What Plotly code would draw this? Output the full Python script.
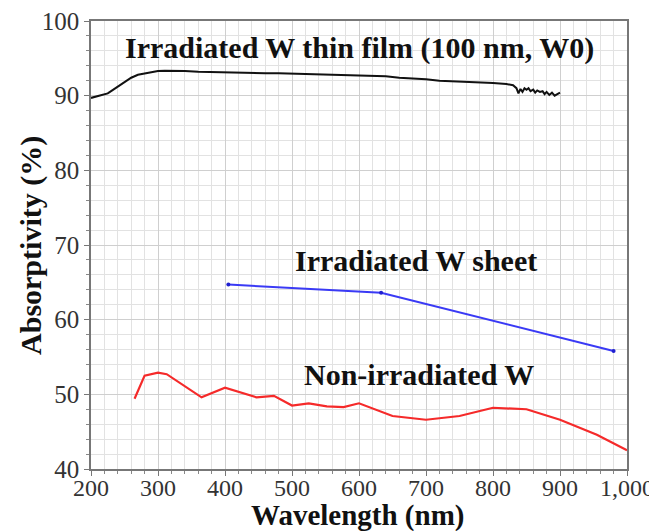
import plotly.graph_objects as go

# Irradiated W thin film (100 nm, W0)
film_wl = [200, 205, 210, 215, 220, 225, 230, 240, 250, 260, 270, 280, 290, 300, 310, 320,
           340, 360, 380, 400, 420, 440, 460, 480, 500, 520, 540, 560, 580, 600, 620, 640,
           660, 680, 700, 720, 740, 760, 780, 800, 820, 830, 835, 838, 841, 844, 847, 850,
           853, 856, 860, 863, 866, 870, 874, 877, 880, 884, 888, 892, 896, 900]
film_abs = [89.7, 89.8, 89.9, 90.0, 90.1, 90.3, 90.6, 91.2, 91.9, 92.4, 92.8, 93.0, 93.2, 93.3, 93.35, 93.35,
            93.3, 93.2, 93.15, 93.1, 93.1, 93.05, 93.0, 93.0, 92.95, 92.9, 92.85, 92.85, 92.8, 92.7, 92.65, 92.6,
            92.4, 92.3, 92.2, 92.0, 91.95, 91.85, 91.8, 91.7, 91.55, 91.4, 91.0, 90.3, 90.9, 90.5, 91.0, 90.8,
            91.0, 90.6, 90.8, 90.4, 90.7, 90.5, 90.6, 90.2, 90.5, 90.1, 90.4, 90.0, 90.2, 90.4]

# Irradiated W sheet
sheet_wl = [405, 633, 980]
sheet_abs = [64.7, 63.6, 55.8]

# Non-irradiated W
non_wl = [265, 280, 300, 313, 365, 400, 447, 473, 500, 525, 552, 577, 600, 650, 700, 750, 800, 850, 900, 955, 1000]
non_abs = [49.4, 52.5, 52.9, 52.7, 49.6, 50.9, 49.6, 49.8, 48.5, 48.8, 48.4, 48.3, 48.8, 47.1, 46.6, 47.1, 48.2, 48.0, 46.6, 44.6, 42.5]

x_ticks = [200, 300, 400, 500, 600, 700, 800, 900, 1000]
x_ticklabels = ["200", "300", "400", "500", "600", "700", "800", "900", "1,000"]
y_ticks = [40, 50, 60, 70, 80, 90, 100]

SERIF = "Liberation Serif"

fig = go.Figure()
fig.add_trace(go.Scatter(x=film_wl, y=film_abs, mode="lines",
                         line=dict(color="#111111", width=2), showlegend=False))
fig.add_trace(go.Scatter(x=sheet_wl, y=sheet_abs, mode="lines+markers",
                         line=dict(color="#3a3af5", width=2),
                         marker=dict(color="#2020d0", size=4), showlegend=False))
fig.add_trace(go.Scatter(x=non_wl, y=non_abs, mode="lines",
                         line=dict(color="#f52a2a", width=2.2), showlegend=False))

ann_font = dict(family=SERIF, size=30, color="#111111", weight="bold")
fig.add_annotation(x=601, y=96.4, xref="x", yref="y", text="Irradiated W thin film (100 nm, W0)",
                   showarrow=False, font=ann_font, xanchor="center", yanchor="middle")
fig.add_annotation(x=685, y=67.9, xref="x", yref="y", text="Irradiated W sheet",
                   showarrow=False, font=ann_font, xanchor="center", yanchor="middle")
fig.add_annotation(x=689, y=52.6, xref="x", yref="y", text="Non-irradiated W",
                   showarrow=False, font=ann_font, xanchor="center", yanchor="middle")

# axis titles
fig.add_annotation(x=0.498, y=-0.103, xref="paper", yref="paper", text="Wavelength (nm)",
                   showarrow=False, font=dict(family=SERIF, size=29, color="#111111", weight="bold"),
                   xanchor="center", yanchor="middle")
fig.add_annotation(x=-0.112, y=0.5, xref="paper", yref="paper", text="Absorptivity (%)",
                   showarrow=False, font=ann_font, xanchor="center", yanchor="middle", textangle=-90)

# the page body has an 8px margin, so the figure is shrunk by 8px and offsets compensated
fig.update_layout(
    width=649, height=523,
    margin=dict(l=83, r=30, t=13, b=62, autoexpand=False),
    paper_bgcolor="white", plot_bgcolor="white",
    font=dict(family=SERIF, color="#333333"),
    xaxis=dict(
        range=[200, 1000], tickvals=x_ticks, ticktext=x_ticklabels, automargin=False,
        tickfont=dict(family=SERIF, size=24, color="#333333"),
        ticklabelstandoff=-9, ticklabeloverflow="allow",
        showgrid=True, gridcolor="#cfcfcf", gridwidth=1,
        ticks="outside", ticklen=5, tickcolor="#777777",
        minor=dict(dtick=20, showgrid=True, gridcolor="#e2e2e2", ticks="outside", ticklen=3, tickcolor="#888888"),
        showline=True, linecolor="#777777", linewidth=1.5, mirror=True,
        zeroline=False,
    ),
    yaxis=dict(
        range=[40, 100], tickvals=y_ticks, automargin=False,
        tickfont=dict(family=SERIF, size=25, color="#333333"),
        ticklabelstandoff=0, ticklabeloverflow="allow",
        showgrid=True, gridcolor="#cfcfcf", gridwidth=1,
        ticks="outside", ticklen=5, tickcolor="#777777",
        minor=dict(dtick=2, showgrid=True, gridcolor="#e2e2e2", ticks="outside", ticklen=3, tickcolor="#888888"),
        showline=True, linecolor="#777777", linewidth=1.5, mirror=True,
        zeroline=False,
    ),
)

fig.write_html("out.html")
